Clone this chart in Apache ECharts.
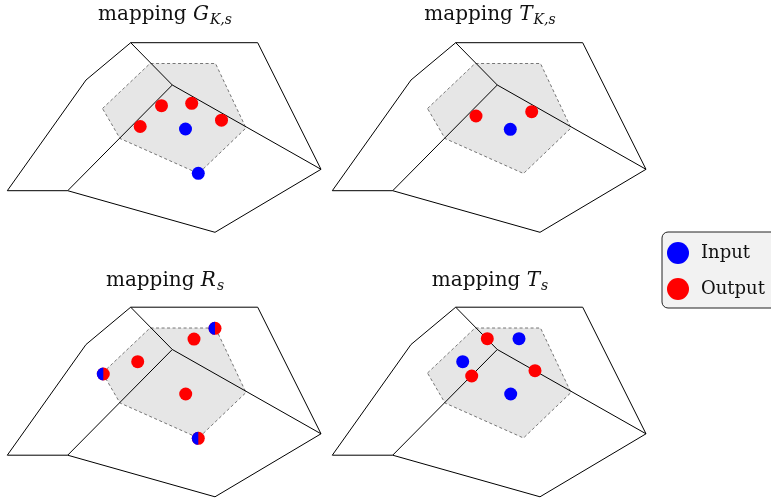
<!DOCTYPE html>
<html>
<head>
<meta charset="utf-8">
<script src="https://cdn.jsdelivr.net/npm/echarts@6/dist/echarts.min.js"></script>
<style>
  html, body { margin: 0; padding: 0; background: #fff; }
  #chart { width: 771px; height: 500px; }
</style>
</head>
<body>
<div id="chart"></div>
<script>
// Cell mesh, in panel units (1 unit = 1 px, y grows downward)
const outerBoundary = [
  [7.3, 190.7], [86, 80], [130.7, 42.7], [257.7, 42.7],
  [321, 169.3], [215, 232.3], [67.7, 190.7], [7.3, 190.7]
];
const innerEdges = [
  [[130.7, 42.7], [172.3, 85]],
  [[172.3, 85], [321, 169.3]],
  [[172.3, 85], [67.7, 190.7]]
];
// Patch around the interior vertex (dashed, shaded)
const patch = [
  [102.5, 108.5], [150, 63.5], [215.5, 63.5],
  [246, 128], [198.5, 173.5], [120, 138.5]
];

// One entry per panel: G_{K,s}, T_{K,s}, R_s, T_s
const mapSymbols = ['G', 'T', 'R', 'T'];
const mapSubscripts = ['K,s', 'K,s', 's', 's'];

const inputPoints = [
  [[185.5, 129], [198.3, 173.3]],
  [[185.3, 129.3]],
  [],
  [[194, 74.2], [137.7, 97.2], [185.7, 129.5]]
];
const outputPoints = [
  [[161.5, 105.7], [191.7, 103.3], [221.5, 120.2], [140.2, 126.5]],
  [[151, 116], [206.7, 111.7]],
  [[194, 74.6], [137.7, 97.2], [185.7, 129.5]],
  [[162.3, 74.2], [146.7, 111.5], [210, 106.2]]
];
// Points that are both input and output
const sharedPoints = [
  [],
  [],
  [[103.3, 109.5], [215, 63.8], [198.3, 173.8]],
  []
];

const panelOrigins = [[0, 0], [325, 0], [0, 264.5], [325, 264.5]];
const titleTops = [3, 3, 269, 269];
const PANEL_W = 330, PANEL_H = 235;
const BLUE = '#0000ff', RED = '#ff0000';
const SERIF = '"DejaVu Serif", "Liberation Serif", serif';

const grids = [], xAxes = [], yAxes = [], series = [], titles = [];

panelOrigins.forEach(function (o, i) {
  grids.push({ left: o[0], top: o[1], width: PANEL_W, height: PANEL_H });
  xAxes.push({ type: 'value', gridIndex: i, min: 0, max: PANEL_W, show: false });
  yAxes.push({ type: 'value', gridIndex: i, min: 0, max: PANEL_H, inverse: true, show: false });

  titles.push({
    text: '{m|mapping }{v|' + mapSymbols[i] + '}{s|' + mapSubscripts[i] + '}',
    left: o[0] + 165,
    top: titleTops[i],
    textAlign: 'center',
    padding: 0,
    textStyle: {
      fontWeight: 'normal',
      rich: {
        m: { fontFamily: SERIF, fontSize: 20, fontWeight: 'normal', color: '#111', lineHeight: 24 },
        v: { fontFamily: SERIF, fontSize: 20, fontWeight: 'normal', fontStyle: 'italic', color: '#111', lineHeight: 24 },
        s: { fontFamily: SERIF, fontSize: 14, fontWeight: 'normal', fontStyle: 'italic', color: '#111', lineHeight: 14, verticalAlign: 'bottom', padding: [0, 0, 0, 1] }
      }
    }
  });

  // shaded dashed patch
  series.push({
    type: 'custom',
    xAxisIndex: i, yAxisIndex: i,
    data: patch,
    silent: true,
    clip: false,
    z: 1,
    renderItem: function (params, api) {
      if (params.dataIndex !== 0) return null;
      const pts = patch.map(function (p) { return api.coord(p); });
      return {
        type: 'polygon',
        shape: { points: pts },
        style: { fill: '#e6e6e6', stroke: '#555', lineWidth: 0.8, lineDash: [3, 2.5] }
      };
    }
  });

  // mesh edges
  series.push({
    type: 'lines',
    coordinateSystem: 'cartesian2d',
    xAxisIndex: i, yAxisIndex: i,
    polyline: true,
    silent: true,
    z: 2,
    lineStyle: { color: '#000', width: 1, opacity: 1 },
    data: [{ coords: outerBoundary }].concat(innerEdges.map(function (e) { return { coords: e }; }))
  });

  series.push({
    type: 'scatter', name: 'Input',
    xAxisIndex: i, yAxisIndex: i,
    data: inputPoints[i],
    symbol: 'circle', symbolSize: 13,
    itemStyle: { color: BLUE, opacity: 1 },
    z: 4, silent: true
  });
  series.push({
    type: 'scatter', name: 'Output',
    xAxisIndex: i, yAxisIndex: i,
    data: outputPoints[i],
    symbol: 'circle', symbolSize: 13,
    itemStyle: { color: RED, opacity: 1 },
    z: 4, silent: true
  });

  // half blue / half red markers
  series.push({
    type: 'custom',
    xAxisIndex: i, yAxisIndex: i,
    data: sharedPoints[i],
    silent: true,
    clip: false,
    z: 5,
    renderItem: function (params, api) {
      const c = api.coord([api.value(0), api.value(1)]);
      return {
        type: 'group',
        children: [
          { type: 'circle', shape: { cx: c[0], cy: c[1], r: 6.5 }, style: { fill: RED } },
          { type: 'sector', shape: { cx: c[0], cy: c[1], r0: 0, r: 6.5, startAngle: Math.PI / 2, endAngle: Math.PI * 1.5, clockwise: true }, style: { fill: BLUE } }
        ]
      };
    }
  });
});

const chart = echarts.init(document.getElementById('chart'), null, { renderer: 'canvas' });
chart.setOption({
  animation: false,
  backgroundColor: '#fff',
  title: titles,
  grid: grids,
  xAxis: xAxes,
  yAxis: yAxes,
  legend: {
    data: ['Input', 'Output'],
    orient: 'vertical',
    left: 662,
    top: 232,
    icon: 'circle',
    itemWidth: 22,
    itemHeight: 22,
    itemGap: 14,
    selectedMode: false,
    backgroundColor: '#f2f2f2',
    borderColor: '#222',
    borderWidth: 1,
    borderRadius: 6,
    padding: [10, 20, 8, 5],
    textStyle: { fontFamily: SERIF, fontSize: 18, color: '#111', padding: [0, 0, 0, 7] }
  },
  series: series
});
</script>
</body>
</html>
